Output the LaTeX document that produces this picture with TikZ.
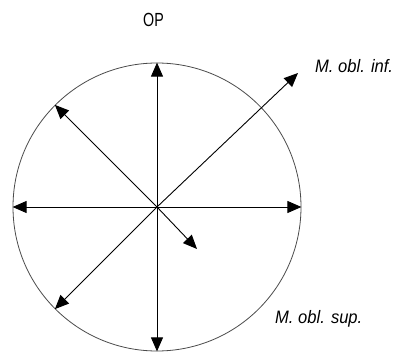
\documentclass[tikz,border=0pt]{standalone}
\usepackage{fontspec}
\setmainfont{Liberation Sans}
\usetikzlibrary{arrows.meta}
\definecolor{rim}{HTML}{4A4A4A}
\tikzset{
  ray/.style={-{Triangle[length=14pt,width=12pt]},line width=0.9pt,black},
  lbl/.style={font=\fontsize{18}{21}\selectfont\itshape,inner sep=0pt,xscale=0.92}
}

\begin{document}
\begin{tikzpicture}[x=1pt,y=-1pt]
  \useasboundingbox (0,0) rectangle (397,353);
  \node[circle,draw=rim,line width=0.8pt,minimum size=288pt,inner sep=0pt] (eye) at (157,207) {};
  \coordinate (c) at (eye.center);
  \foreach \a in {0,90,135,180,225,270}{\draw[ray] (c) -- (eye.\a);}
  \coordinate (inf) at (298,73);
  \coordinate (tip) at (197,249);
  \draw[ray] (c) -- (inf);
  \draw[ray] (c) -- (tip);
  \node[font=\fontsize{19}{22}\selectfont,xscale=0.75] (op) at (153.5,20) {OP};
  \node[lbl,anchor=base west] (oblinf) at (315,73) {M. obl. inf.};
  \node[lbl,anchor=base west] (oblsup) at (275,323) {M. obl. sup.};
\end{tikzpicture}
\end{document}
